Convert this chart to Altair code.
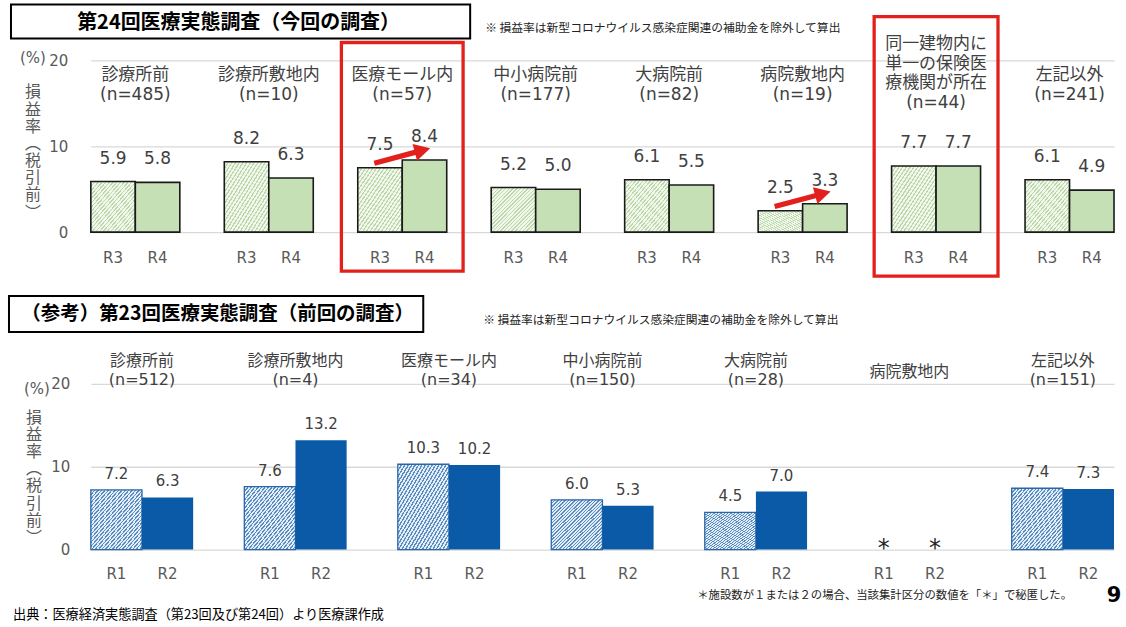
import altair as alt
import pandas as pd

# ---------------- 第24回医療実態調査（R3 / R4） ----------------
top_groups = [
    "診療所前", "診療所敷地内", "医療モール内", "中小病院前",
    "大病院前", "病院敷地内", "同一建物内に\n単一の保険医\n療機関が所在", "左記以外",
]
top_n = [485, 10, 57, 177, 82, 19, 44, 241]
top_series = ["R3", "R4"]
top_r3 = [5.9, 8.2, 7.5, 5.2, 6.1, 2.5, 7.7, 6.1]
top_r4 = [5.8, 6.3, 8.4, 5.0, 5.5, 3.3, 7.7, 4.9]
top_arrow_groups = ["医療モール内", "病院敷地内"]
top_box_groups = ["医療モール内", "同一建物内に\n単一の保険医\n療機関が所在"]

# ---------------- 第23回医療実態調査（R1 / R2） ----------------
bot_groups = [
    "診療所前", "診療所敷地内", "医療モール内", "中小病院前",
    "大病院前", "病院敷地内", "左記以外",
]
bot_n = [512, 4, 34, 150, 28, None, 151]
bot_series = ["R1", "R2"]
bot_r1 = [7.2, 7.6, 10.3, 6.0, 4.5, None, 7.4]
bot_r2 = [6.3, 13.2, 10.2, 5.3, 7.0, None, 7.3]

NOTE = "※ 損益率は新型コロナウイルス感染症関連の補助金を除外して算出"
Y_TITLE = "損\n益\n率\n︵\n税\n引\n前\n︶"

FONT_JP = "Noto Sans CJK JP"
FONT_NUM = "DejaVu Sans, Noto Sans CJK JP"
TEXT = "#404040"
GREY = "#595959"
GRID = "#d9d9d9"
RED = "#e3211c"

PLOT_W = 1025
TOP_H = 172
BOT_H = 166
GAP = 1 / 3  # gap between category clusters, in units of one cluster step

one = pd.DataFrame({"k": [0]})


def long_frame(groups, series, columns):
    """One row per bar; a cluster occupies [i, i + 2/3] on the x scale."""
    rows = []
    width = (1 - GAP) / len(series)
    for i, g in enumerate(groups):
        for k, (s, col) in enumerate(zip(series, columns)):
            v = col[i]
            x0 = i + k * width
            rows.append({
                "group": g, "series": s, "value": v,
                "x0": x0, "x1": x0 + width, "xc": x0 + width / 2,
                "label": "*" if v is None else f"{v:.1f}",
            })
    return pd.DataFrame(rows)


def category_frame(groups, ns):
    cats = [g if n is None else f"{g}\n(n={n})" for g, n in zip(groups, ns)]
    return pd.DataFrame({
        "group": groups, "cat": cats,
        "gc": [i + (1 - GAP) / 2 for i in range(len(groups))],
        "lines": [c.count("\n") + 1 for c in cats],
    })


def hatch(bg, fg, stripes, share):
    """Diagonal '////' hatching emulated with a hard-stop linear gradient."""
    stops = []
    for i in range(stripes):
        a, b, c = i / stripes, (i + share) / stripes, (i + 1) / stripes
        stops += [
            alt.GradientStop(offset=a, color=fg), alt.GradientStop(offset=b, color=fg),
            alt.GradientStop(offset=b, color=bg), alt.GradientStop(offset=c, color=bg),
        ]
    return alt.LinearGradient(gradient="linear", stops=stops, x1=0, y1=0, x2=1, y2=1)


Y_SCALE = alt.Scale(domain=[0, 20], nice=False)


def x_scale(groups):
    return alt.Scale(domain=[0, len(groups) - GAP], nice=False, zero=False)


def y_axis(pad):
    return alt.Axis(values=[0, 10, 20], grid=True, gridColor=GRID, gridWidth=1.3,
                    domain=False, ticks=False, labelPadding=pad, labelFontSize=15,
                    labelFont="DejaVu Sans", labelColor=GREY, title=None)


def static_text(text, x, y, **kw):
    return alt.Chart(one).mark_text(text=text, **kw).encode(x=alt.value(x), y=alt.value(y))


def frame_box(x, x2, y, y2, **kw):
    return alt.Chart(one).mark_rect(**kw).encode(
        x=alt.value(x), x2=alt.value(x2), y=alt.value(y), y2=alt.value(y2))


def bar_layers(df, groups, series, height, yax, style):
    xsc = x_scale(groups)
    ys = alt.Y("value:Q", scale=Y_SCALE, axis=yax)
    base = alt.Chart(df)
    valid = "isValid(datum.value)"

    def bars(name, **mark):
        return base.transform_filter(
            alt.FieldEqualPredicate(field="series", equal=name)
        ).transform_filter(valid).mark_rect(**mark).encode(
            x=alt.X("x0:Q", scale=xsc, axis=None), x2="x1:Q",
            y=ys, y2=alt.datum(0))

    hatched = bars(series[0], fill=style["hatch"], stroke=style["hatch_stroke"],
                   strokeWidth=style["hatch_sw"])
    solid_kw = {"fill": style["solid"]}
    if style["solid_sw"] > 0:
        solid_kw.update(stroke=style["solid_stroke"], strokeWidth=style["solid_sw"])
    solid = bars(series[1], **solid_kw)

    xc = alt.X("xc:Q", scale=xsc, axis=None)
    values = base.transform_filter(valid).mark_text(
        font=FONT_NUM, fontSize=style["val_size"], color=TEXT,
        baseline="middle", dy=style["val_dy"],
    ).encode(x=xc, y=ys, text="label:N")

    # suppressed values (1–2 facilities) are shown as an asterisk on the baseline
    masked = base.transform_filter("!" + valid).mark_text(
        font="DejaVu Sans", fontSize=24, color="#262626", baseline="middle",
    ).encode(x=xc, y=alt.value(height - 1), text="label:N")

    ticks = base.mark_text(
        font=FONT_NUM, fontSize=15, color=GREY, baseline="middle",
    ).encode(x=xc, y=alt.value(height + style["xlab_dy"]), text="series:N")

    return xsc, [hatched, solid, values, masked, ticks]


# ---------------- top panel ----------------
top_df = long_frame(top_groups, top_series, [top_r3, top_r4])
top_cat = category_frame(top_groups, top_n)
top_yax = y_axis(23)
top_style = {
    "hatch": hatch("#f1f7ed", "#bcd8a8", 24, 0.38), "hatch_stroke": "#1a1a1a", "hatch_sw": 1.6,
    "solid": "#c5e0b4", "solid_stroke": "#1a1a1a", "solid_sw": 1.6,
    "val_size": 17, "val_dy": -23, "xlab_dy": 26,
}
xsc_top, top_bars = bar_layers(top_df, top_groups, top_series, TOP_H, top_yax, top_style)
gc_top = alt.X("gc:Q", scale=xsc_top, axis=None)

cat_kw = dict(font=FONT_NUM, fontSize=17, color=TEXT, lineBreak="\n", baseline="top", align="center")
top_cat_two = alt.Chart(top_cat).transform_filter("datum.lines == 2").mark_text(
    lineHeight=20, **cat_kw).encode(x=gc_top, y=alt.value(7), text="cat:N")
top_cat_more = alt.Chart(top_cat).transform_filter("datum.lines != 2").mark_text(
    lineHeight=19.5, **cat_kw).encode(x=gc_top, y=alt.value(-24), text="cat:N")

# rising arrows between the two years
arrow_df = top_cat[top_cat["group"].isin(top_arrow_groups)].copy()
arrow_df["ay"] = [
    (top_r3[top_groups.index(g)] + top_r4[top_groups.index(g)]) / 2 + 0.95
    for g in arrow_df["group"]
]
ARROW = "M -1 -0.09 L 0.45 -0.09 L 0.45 -0.3 L 1 0 L 0.45 0.3 L 0.45 0.09 L -1 0.09 Z"
arrows = alt.Chart(arrow_df).mark_point(
    shape=ARROW, size=3364, angle=345, filled=True, fill=RED, opacity=1, strokeWidth=0,
).encode(x=gc_top, y=alt.Y("ay:Q", scale=Y_SCALE, axis=top_yax))

# red frames around highlighted categories (a little wider than the cluster)
box_kw = dict(fill="transparent", stroke=RED, strokeWidth=3.3)


def highlight(group, half, top, bottom):
    return alt.Chart(top_cat).transform_filter(
        alt.FieldEqualPredicate(field="group", equal=group)
    ).transform_calculate(
        bx0=f"datum.gc - {half}", bx1=f"datum.gc + {half}"
    ).mark_rect(**box_kw).encode(
        x=alt.X("bx0:Q", scale=xsc_top, axis=None), x2="bx1:Q",
        y=alt.value(top), y2=alt.value(bottom))


box_a = highlight(top_box_groups[0], 0.456, -18, 211)
box_b = highlight(top_box_groups[1], 0.464, -44, 216)

page_extent = frame_box(-90, 1036, -59, 568, opacity=0)

ytitle_kw = dict(font=FONT_JP, fontSize=16, color=GREY, lineBreak="\n", lineHeight=17.2,
                 align="center", baseline="top")

top_chart = alt.layer(
    page_extent,
    *top_bars,
    top_cat_two, top_cat_more,
    arrows, box_a, box_b,
    frame_box(-80, 380, -56, -22, fill="white", stroke="#000000", strokeWidth=2),
    static_text("第24回医療実態調査（今回の調査）", 148, -38, font=FONT_JP, fontSize=20,
                fontWeight="bold", color="#000000", align="center", baseline="middle"),
    static_text(NOTE, 395, -33, font=FONT_JP, fontSize=11.8, color="#222222",
                align="left", baseline="middle"),
    static_text("(%)", -58, -2, font="DejaVu Sans", fontSize=15, color=GREY,
                align="center", baseline="middle"),
    static_text(Y_TITLE, -58, 24, **ytitle_kw),
).properties(width=PLOT_W, height=TOP_H)

# ---------------- bottom panel ----------------
bot_df = long_frame(bot_groups, bot_series, [bot_r1, bot_r2])
bot_cat = category_frame(bot_groups, bot_n)
bot_yax = y_axis(21)
bot_style = {
    "hatch": hatch("#e3edf7", "#5a8cc2", 30, 0.42), "hatch_stroke": "#2a67a8", "hatch_sw": 1.3,
    "solid": "#0a5aa8", "solid_stroke": "#0a5aa8", "solid_sw": 0,
    "val_size": 15, "val_dy": -16, "xlab_dy": 24,
}
xsc_bot, bot_bars = bar_layers(bot_df, bot_groups, bot_series, BOT_H, bot_yax, bot_style)
gc_bot = alt.X("gc:Q", scale=xsc_bot, axis=None)

bcat_kw = dict(font=FONT_NUM, fontSize=16, color=TEXT, lineBreak="\n", lineHeight=19,
               baseline="top", align="center")
bot_cat_two = alt.Chart(bot_cat).transform_filter("datum.lines == 2").mark_text(
    **bcat_kw).encode(x=gc_bot, y=alt.value(-31), text="cat:N")
bot_cat_one = alt.Chart(bot_cat).transform_filter("datum.lines == 1").mark_text(
    **bcat_kw).encode(x=gc_bot, y=alt.value(-20), text="cat:N")

bot_chart = alt.layer(
    *bot_bars,
    bot_cat_two, bot_cat_one,
    frame_box(-82, 333, -88, -52, fill="white", stroke="#000000", strokeWidth=2),
    static_text("（参考）第23回医療実態調査（前回の調査）", 127, -70, font=FONT_JP,
                fontSize=19.5, fontWeight="bold", color="#000000", align="center",
                baseline="middle"),
    static_text(NOTE, 393, -64, font=FONT_JP, fontSize=11.8, color="#222222",
                align="left", baseline="middle"),
    static_text("(%)", -54, 5, font="DejaVu Sans", fontSize=15, color=GREY,
                align="center", baseline="middle"),
    static_text(Y_TITLE, -57, 26, **ytitle_kw),
    static_text("出典：医療経済実態調査（第23回及び第24回）より医療課作成", -78, 232,
                font=FONT_JP, fontSize=13.2, color="#000000", align="left", baseline="middle"),
    static_text("＊施設数が１または２の場合、当該集計区分の数値を「＊」で秘匿した。", 983, 213,
                font=FONT_JP, fontSize=11.4, color="#222222", align="right", baseline="middle"),
    static_text("9", 1025, 213, font="DejaVu Sans", fontSize=21, fontWeight="bold",
                color="#000000", align="center", baseline="middle"),
).properties(width=PLOT_W, height=BOT_H)

chart = alt.vconcat(top_chart, bot_chart, spacing=152, bounds="flush").properties(
    padding=0, background="white"
).configure_view(stroke="transparent")

chart.save("out.html", embed_options={"renderer": "svg", "actions": False})
